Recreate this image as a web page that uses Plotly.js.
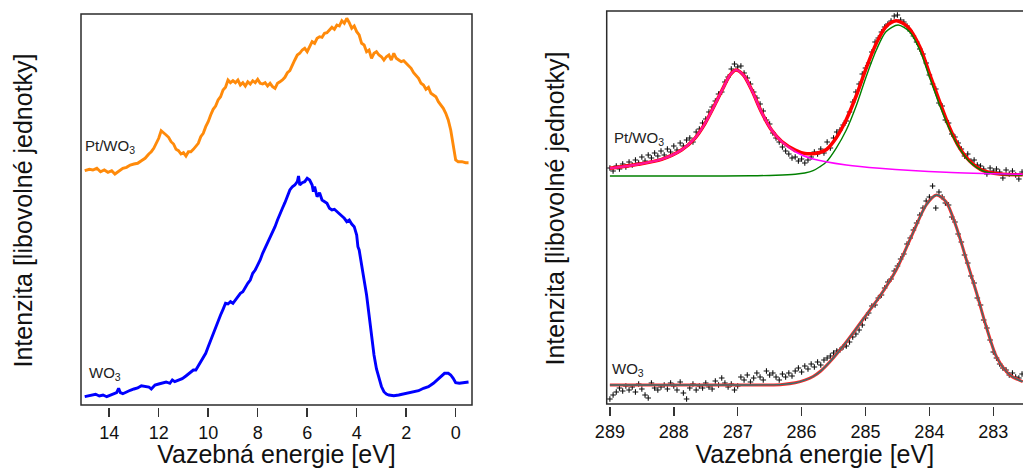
<!DOCTYPE html>
<html>
<head>
<meta charset="utf-8">
<script src="https://cdn.plot.ly/plotly-3.0.1.min.js"></script>
<style>html,body{margin:0;padding:0;overflow:hidden;background:#fff}#chart{width:1023px;height:468px}</style>
</head>
<body>
<div id="chart"></div>
<script>
// ---------------- Left panel: valence band spectra ----------------
const VB_PT_E = [14.99,14.80,14.66,14.50,14.35,14.20,14.05,13.90,13.77,13.60,13.45,13.30,13.15,13.00,12.85,12.70,12.55,12.40,12.30,12.20,12.10,12.00,11.90,11.80,11.70,11.60,11.50,11.40,11.30,11.20,11.10,11.00,10.90,10.80,10.70,10.60,10.50,10.40,10.30,10.20,10.10,10.00,9.90,9.80,9.70,9.60,9.50,9.40,9.30,9.20,9.10,9.00,8.90,8.80,8.70,8.60,8.50,8.40,8.30,8.20,8.10,8.00,7.90,7.80,7.70,7.60,7.50,7.40,7.30,7.20,7.10,7.00,6.90,6.80,6.70,6.60,6.50,6.40,6.30,6.20,6.10,6.00,5.90,5.80,5.70,5.60,5.50,5.40,5.30,5.20,5.10,5.00,4.90,4.80,4.70,4.60,4.50,4.40,4.30,4.20,4.10,4.00,3.90,3.80,3.70,3.60,3.50,3.40,3.30,3.20,3.10,3.00,2.90,2.80,2.70,2.60,2.50,2.40,2.30,2.20,2.10,2.00,1.90,1.80,1.70,1.60,1.50,1.40,1.30,1.20,1.10,1.00,0.90,0.80,0.70,0.60,0.50,0.40,0.30,0.20,0.12,0.05,0.00,-0.10,-0.25,-0.40,-0.52];
const VB_PT_I = [234.3,235.7,235,236.7,233.3,235,232.7,234.3,231,234.3,236.7,237.7,240,241,241.7,244.3,246.7,251,253.3,256.7,261.7,266.7,274.3,271.7,270,267.7,263.3,261,255.7,254.3,251,252.3,249,253.3,253.3,255.7,258.3,261.7,268.3,271.7,278.3,283.3,290,295.7,299,305,308.3,315,317.7,325,322.3,324.3,322.3,325,320,322.3,319,323.3,321,324.3,322.3,325.7,321.7,321,322.3,319,321.7,318.3,316.7,321.7,323.3,325,327.7,332.3,334.3,339,345,350,351.7,355,356.7,353.3,359,363.3,361.7,366.7,368.3,367.7,371.7,372.3,375,377.7,375.7,380,379,384.3,381.7,386.7,382.3,376.7,379,373.3,370,361.7,360,353.3,355,346.7,351.7,353.3,350,348.3,345,348.3,350,345,351.7,346.7,345,343.3,344.3,341.7,339,336.7,332.3,330,326.7,321.7,320,315.7,317.7,311.7,310,308.3,303.3,300,296.7,291.7,285,275,261.7,248.3,245,243.3,243.3,242.3,242.3];

const VB_WO_E = [14.99,14.85,14.70,14.55,14.40,14.25,14.10,13.95,13.80,13.70,13.62,13.55,13.45,13.30,13.15,13.00,12.85,12.70,12.55,12.40,12.30,12.15,12.00,11.85,11.70,11.55,11.45,11.35,11.20,11.05,10.90,10.75,10.60,10.50,10.40,10.30,10.20,10.10,10.00,9.90,9.80,9.70,9.60,9.50,9.40,9.30,9.20,9.10,9.00,8.90,8.80,8.70,8.60,8.50,8.40,8.30,8.20,8.10,8.00,7.90,7.80,7.70,7.60,7.50,7.40,7.30,7.20,7.10,7.00,6.90,6.80,6.70,6.60,6.50,6.40,6.35,6.30,6.20,6.10,6.00,5.90,5.80,5.75,5.70,5.60,5.50,5.40,5.30,5.20,5.10,5.00,4.90,4.80,4.70,4.60,4.50,4.40,4.30,4.20,4.10,4.00,3.95,3.90,3.80,3.70,3.60,3.50,3.40,3.30,3.20,3.10,3.00,2.90,2.80,2.70,2.50,2.30,2.10,1.90,1.70,1.50,1.30,1.10,0.90,0.75,0.60,0.45,0.30,0.20,0.10,0.00,-0.15,-0.35,-0.52];
const VB_WO_I = [8.3,9,10,10.7,9,10,8.3,9.7,10.7,12.3,16.7,12.3,11.3,13.3,14.7,16,17,19.3,18.7,18,16,20,21,21.7,23,21.7,25,23.3,25,26.3,29,32.3,35,35,39,43.3,46.7,51.7,58.3,65,71.7,78.3,83.3,90,95.7,101.7,101,103.3,101.7,105,108.3,111.7,113.3,118.3,121.7,125,131.7,135,140,145,151.7,156.7,162.3,166.7,173.3,178.3,185,191.7,196.7,202.3,208.3,215,218.3,220,223.3,229,220,222.3,223.3,226.7,225,220,213.3,218.3,208.3,212.3,205,203.3,201.7,196.7,195,195.7,193.3,191.7,188.3,186.7,183.3,185,181,178.3,170,158.3,155,138.3,125,110,90,68,50,36,26,18.5,13.3,11,10,9.3,10,11,12.3,13.3,14.3,16.7,18.3,21.7,25,29,31.7,31.7,30,26.7,22.3,21.7,22.3,23];

const VB_TICKS = [14,12,10,8,6,4,2,0];

// ---------------- Right panel: C 1s spectra ----------------
const C1S_TICKS = [289,288,287,286,285,284,283];

// measured points (shared energy grid, eV)
const PTS_E = [289.00,288.95,288.90,288.85,288.80,288.75,288.70,288.65,288.60,288.55,
288.50,288.45,288.40,288.35,288.30,288.25,288.20,288.15,288.10,288.05,
288.00,287.95,287.90,287.85,287.80,287.75,287.70,287.65,287.60,287.55,
287.50,287.45,287.40,287.35,287.30,287.25,287.20,287.15,287.10,287.05,
287.00,286.95,286.90,286.85,286.80,286.75,286.70,286.65,286.60,286.55,
286.50,286.45,286.40,286.35,286.30,286.25,286.20,286.15,286.10,286.05,
286.00,285.95,285.90,285.85,285.80,285.75,285.70,285.65,285.60,285.55,
285.50,285.45,285.40,285.35,285.30,285.25,285.20,285.15,285.10,285.05,
285.00,284.95,284.90,284.85,284.80,284.75,284.70,284.65,284.60,284.55,
284.50,284.45,284.40,284.35,284.30,284.25,284.20,284.15,284.10,284.05,
284.00,283.95,283.90,283.85,283.80,283.75,283.70,283.65,283.60,283.55,
283.50,283.45,283.40,283.35,283.30,283.25,283.20,283.15,283.10,283.05,
283.00,282.95,282.90,282.85,282.80,282.75,282.70,282.65,282.60,282.55];

const PT_DATA = [236,233,238,235,240,237,242,239,244,241,
247,243,249,246,251,248,253,249,255,252,
258,254,261,258,264,266,262,272,275,281,
285,292,297,303,310,312,322,327,335,340,
337,338,331,326,320,312,306,300,293,284,
280,271,266,262,257,253,250,246,247,243,
245,241,244,247,252,250,255,251,262,256,
266,272,274,279,283,292,302,312,320,330,
336,341,352,362,366,372,377,380,383,388,
389,384,382,378,373,368,362,355,350,341,
329,320,315,301,298,284,281,270,267,261,
255,248,250,243,244,239,238,235,230,236,
233,235,232,226,234,230,233,229,225,232];

const WO_DATA = [5,9,12,16,13,18,14,17,12,20,
15,9,6,21,16,14,17,19,15,21,
18,14,22,11,5,16,20,14,18,16,
21,17,15,23,19,26,21,17,20,14,
18,27,24,29,22,26,31,27,24,33,
29,31,27,24,30,27,31,28,33,36,
32,38,35,40,37,42,39,44,46,48,
51,53,54,57,58,62,67,70,74,79,
86,91,98,99,106,109,116,122,125,133,
138,145,150,160,166,174,181,189,196,203,
207,218,196,212,207,201,199,187,182,170,
162,149,141,128,121,106,99,84,76,64,
52,46,40,36,34,29,31,27,26,30];

// fitted components
const FIT_SUM_E = [289.0,288.56,288.19,287.88,287.67,287.51,287.36,287.23,287.12,287.03,286.91,286.78,286.63,286.47,286.31,286.10,285.95,285.82,285.72,285.61,285.46,285.30,285.14,284.99,284.83,284.68,284.52,284.34,284.15,284.00,283.84,283.68,283.53,283.37,283.16,282.90,282.54];
const FIT_SUM_I = [235.7,239.7,244.7,254,265.7,280.7,299,315.7,329,334,329,314,292.3,274,262.5,254,250.5,250.3,251.5,254.5,266,284.5,309,335.7,360.7,377.3,383.3,377.3,357.3,330.7,302.3,275.7,256.3,243,233.3,230,229.3];

const FIT_C1_E = [289.0,288.56,288.19,287.88,287.67,287.51,287.36,287.23,287.12,287.03,286.91,286.78,286.63,286.47,286.31,286.10,285.82,285.30,284.78,283.74,282.54];
const FIT_C1_I = [235.7,239.7,244.7,254,265.7,280.7,299,315.7,329,334,329,314,292.3,274,262.3,252.3,245,239,235.7,231.7,229.7];

const FIT_C2_E = [289.0,287.5,286.8,286.4,286.1,285.95,285.82,285.72,285.61,285.46,285.30,285.14,284.99,284.83,284.68,284.49,284.31,284.15,284.00,283.84,283.68,283.53,283.37,283.16,282.90,282.54];
const FIT_C2_I = [228,228,228.2,228.8,229.8,231,233.3,237,242.3,255.7,274,299,327.3,354,372.3,379,372.3,354,327.3,299,274,255.7,242.3,233,229.7,229];

const FIT_WO_E = [289.0,287.0,286.5,286.3,286.1,285.95,285.82,285.7,285.56,285.30,285.04,284.78,284.52,284.26,284.05,283.89,283.74,283.58,283.42,283.26,283.11,282.95,282.74,282.54];
const FIT_WO_I = [19,19,19.1,19.6,21.2,23.8,27.5,33,42,62,84.5,107.3,134,170.7,199,209,202.3,177.3,144,110.7,77.3,47.3,29,22.3];

const FONT = 'Liberation Sans, Arial, Helvetica, sans-serif';
const MK = {symbol:'cross-thin', size:4, color:'#000', line:{width:1.1, color:'#111'}};

const traces = [
  {x: VB_PT_E, y: VB_PT_I, xaxis:'x', yaxis:'y', mode:'lines', line:{color:'#ff8a0a', width:2.9}, hoverinfo:'skip'},
  {x: VB_WO_E, y: VB_WO_I, xaxis:'x', yaxis:'y', mode:'lines', line:{color:'#0000ff', width:2.9}, hoverinfo:'skip'},

  {x: PTS_E, y: PT_DATA, xaxis:'x2', yaxis:'y2', mode:'markers', marker:MK},
  {x: PTS_E, y: WO_DATA, xaxis:'x2', yaxis:'y2', mode:'markers', marker:MK},

  {x: FIT_SUM_E, y: FIT_SUM_I, xaxis:'x2', yaxis:'y2', mode:'lines', line:{color:'#ff0000', width:3.5, shape:'spline', smoothing:0.8}},
  {x: FIT_C2_E, y: FIT_C2_I, xaxis:'x2', yaxis:'y2', mode:'lines', line:{color:'#008000', width:1.4, shape:'spline', smoothing:0.8}},
  {x: FIT_C1_E, y: FIT_C1_I, xaxis:'x2', yaxis:'y2', mode:'lines', line:{color:'#ff00ff', width:1.6, shape:'spline', smoothing:0.8}},
  {x: FIT_C1_E.slice(0,16), y: FIT_C1_I.slice(0,16), xaxis:'x2', yaxis:'y2', mode:'lines', line:{color:'#ff1493', width:2.2, shape:'spline', smoothing:0.8}},

  {x: FIT_WO_E, y: FIT_WO_I, xaxis:'x2', yaxis:'y2', mode:'lines', line:{color:'#ff2a2a', width:3, shape:'spline', smoothing:0.8}},
  {x: FIT_WO_E, y: FIT_WO_I, xaxis:'x2', yaxis:'y2', mode:'lines', line:{color:'#2f7573', width:1.3, shape:'spline', smoothing:0.8}}
];

const xCommon = {
  showgrid:false, zeroline:false, showline:false,
  ticks:'outside', ticklen:9, tickwidth:1.5, tickcolor:'#333',
  tickfont:{family:FONT, size:18, color:'#111'},
  title:{font:{family:FONT, size:25, color:'#111'}, standoff:7}
};
const yCommon = {
  showgrid:false, zeroline:false, showline:false, ticks:'', showticklabels:false,
  title:{text:'Intenzita [libovolné jednotky]', font:{family:FONT, size:25, color:'#111'}, standoff:40}
};

const layout = {
  width:1023, height:468,
  margin:{l:0, r:0, t:0, b:0},
  paper_bgcolor:'#fff', plot_bgcolor:'rgba(0,0,0,0)',
  showlegend:false,
  xaxis: Object.assign({}, xCommon, {domain:[0.07918,0.46139], range:[15.14,-0.66], tickvals:VB_TICKS, ticktext:VB_TICKS.map(String), anchor:'y',
    title:Object.assign({}, xCommon.title, {text:'Vazebná energie [eV]'})}),
  yaxis: Object.assign({}, yCommon, {domain:[0.13034,0.97009], range:[-2,391], anchor:'x'}),
  xaxis2: Object.assign({}, xCommon, {domain:[0.59306,1], range:[289.05,282.535], tickvals:C1S_TICKS, ticktext:C1S_TICKS.map(String), anchor:'y2',
    title:Object.assign({}, xCommon.title, {text:'Vazebná energie [eV]'})}),
  yaxis2: Object.assign({}, yCommon, {domain:[0.13248,0.97650], range:[-2,393], anchor:'x2',
    title:Object.assign({}, yCommon.title, {standoff:33})}),
  shapes:[
    {type:'rect', xref:'paper', yref:'paper', x0:0.07918, x1:0.46139, y0:0.13462, y1:0.97009, line:{color:'#2b2b2b', width:1.5}, fillcolor:'rgba(0,0,0,0)'},
    {type:'rect', xref:'paper', yref:'paper', x0:0.59306, x1:1.02, y0:0.13675, y1:0.97650, line:{color:'#2b2b2b', width:1.5}, fillcolor:'rgba(0,0,0,0)'}
  ],
  annotations:[
    {text:'Pt/WO<sub>3</sub>', xref:'paper', yref:'paper', x:0.0812, y:0.6859, xanchor:'left', yanchor:'middle', showarrow:false, font:{family:FONT, size:15, color:'#222'}},
    {text:'WO<sub>3</sub>', xref:'paper', yref:'paper', x:0.0850, y:0.2009, xanchor:'left', yanchor:'middle', showarrow:false, font:{family:FONT, size:15, color:'#222'}},
    {text:'Pt/WO<sub>3</sub>', xref:'paper', yref:'paper', x:0.5985, y:0.7051, xanchor:'left', yanchor:'middle', showarrow:false, font:{family:FONT, size:15, color:'#222'}},
    {text:'WO<sub>3</sub>', xref:'paper', yref:'paper', x:0.5965, y:0.2115, xanchor:'left', yanchor:'middle', showarrow:false, font:{family:FONT, size:15, color:'#222'}}
  ]
};

Plotly.newPlot('chart', traces, layout, {staticPlot:true, displayModeBar:false});
</script>
</body>
</html>
